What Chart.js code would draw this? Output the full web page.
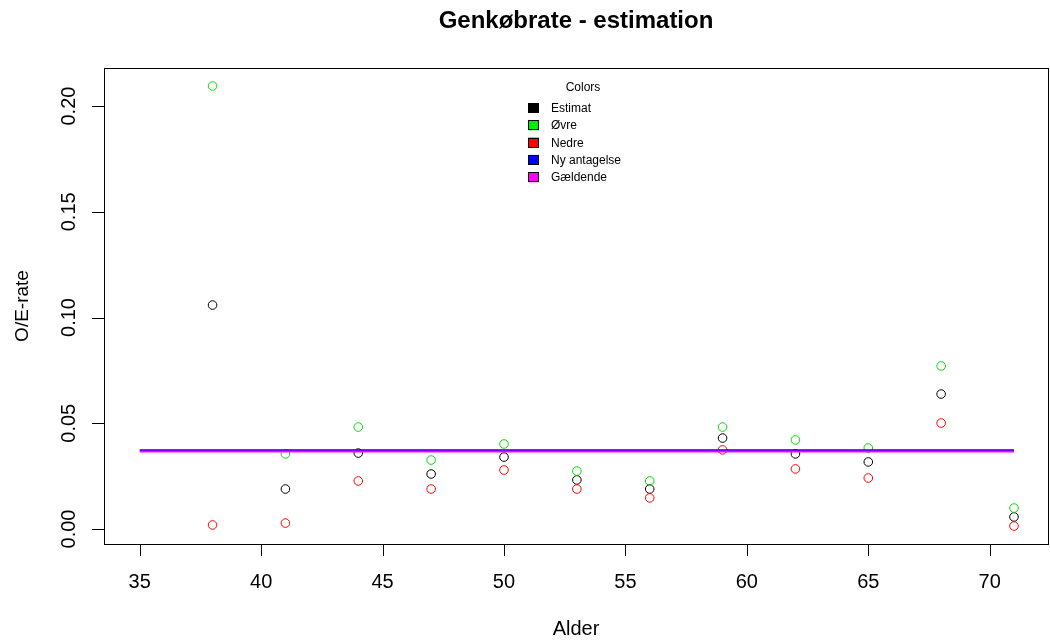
<!DOCTYPE html>
<html>
<head>
<meta charset="utf-8">
<script src="https://cdn.jsdelivr.net/npm/chart.js@4/dist/chart.umd.min.js"></script>
<style>
  html, body { margin: 0; padding: 0; background: #fff; }
  #wrap { width: 1050px; height: 641px; }
</style>
</head>
<body>
<div id="wrap"><canvas id="chart"></canvas></div>
<script>
// ages and rate estimates
const ages = [38, 41, 44, 47, 50, 53, 56, 59, 62, 65, 68, 71];
const estimat = [0.1059, 0.0189, 0.0359, 0.0260, 0.0340, 0.0232, 0.0189, 0.0430, 0.0355, 0.0317, 0.0638, 0.0057];
const ovre    = [0.2095, 0.0355, 0.0482, 0.0326, 0.0402, 0.0274, 0.0227, 0.0482, 0.0421, 0.0383, 0.0771, 0.0099];
const nedre   = [0.0019, 0.0028, 0.0227, 0.0189, 0.0279, 0.0189, 0.0147, 0.0374, 0.0284, 0.0241, 0.0501, 0.0014];
const lineAges = [35, 71];
const nyAntagelse = [0.0372, 0.0372];
const gaeldende = [0.0366, 0.0366];

const xTicks = [35, 40, 45, 50, 55, 60, 65, 70];
const yTicks = [0, 0.05, 0.10, 0.15, 0.20];
const legendLabels = ['Estimat', 'Øvre', 'Nedre', 'Ny antagelse', 'Gældende'];
const legendColors = ['#000000', '#00ee00', '#ff0000', '#0000ff', '#ff00ff'];

const FONT = '"Liberation Sans", Arial, sans-serif';

function pts(xs, ys) { return xs.map((x, i) => ({ x: x, y: ys[i] })); }

function circles(label, data, color) {
  return { label, data, showLine: false, pointStyle: 'circle', pointRadius: 4.3, pointBorderWidth: 1,
    borderColor: color, pointBorderColor: color, backgroundColor: 'rgba(0,0,0,0)', pointBackgroundColor: 'rgba(0,0,0,0)', order: 3 };
}

// R-style frame, ticks, labels and legend drawn on top
const rPlot = {
  id: 'rPlot',
  afterDraw(chart) {
    const ctx = chart.ctx, a = chart.chartArea;
    const xs = chart.scales.x, ys = chart.scales.y;
    ctx.save();
    ctx.strokeStyle = '#000'; ctx.lineWidth = 1; ctx.fillStyle = '#000';
    ctx.strokeRect(Math.round(a.left) + 0.5, Math.round(a.top) + 0.5, Math.round(a.right - a.left), Math.round(a.bottom - a.top));

    // x axis
    ctx.beginPath();
    xTicks.forEach(t => {
      const px = Math.round(xs.getPixelForValue(t)) + 0.5;
      ctx.moveTo(px, a.bottom); ctx.lineTo(px, a.bottom + 12);
    });
    ctx.stroke();
    ctx.textAlign = 'center'; ctx.textBaseline = 'alphabetic';
    ctx.font = '20px ' + FONT;
    xTicks.forEach(t => ctx.fillText(String(t), xs.getPixelForValue(t), 588));
    ctx.fillText('Alder', (a.left + a.right) / 2, 635);

    // y axis
    ctx.beginPath();
    yTicks.forEach(t => {
      const py = Math.round(ys.getPixelForValue(t)) + 0.5;
      ctx.moveTo(a.left, py); ctx.lineTo(a.left - 12, py);
    });
    ctx.stroke();
    yTicks.forEach(t => {
      const py = ys.getPixelForValue(t);
      ctx.save(); ctx.translate(75, py); ctx.rotate(-Math.PI / 2);
      ctx.fillText(t.toFixed(2), 0, 0);
      ctx.restore();
    });
    ctx.save(); ctx.translate(28, (a.top + a.bottom) / 2); ctx.rotate(-Math.PI / 2);
    ctx.font = '19px ' + FONT; ctx.fillText('O/E-rate', 0, 0);
    ctx.restore();

    // title
    ctx.font = 'bold 24px ' + FONT;
    ctx.fillText('Genkøbrate - estimation', (a.left + a.right) / 2, 28);

    // legend
    ctx.font = '12px ' + FONT;
    ctx.fillText('Colors', 583, 91);
    ctx.textAlign = 'left';
    legendLabels.forEach((lab, i) => {
      const y = 108 + i * 17.3;
      ctx.fillStyle = legendColors[i];
      ctx.fillRect(528, y - 5, 11, 10);
      ctx.strokeStyle = '#000';
      ctx.strokeRect(528.5, Math.round(y - 5) + 0.5, 10, 9);
      ctx.fillStyle = '#000';
      ctx.fillText(lab, 551, y + 4);
    });
    ctx.restore();
  }
};

new Chart(document.getElementById('chart'), {
  type: 'scatter',
  data: {
    datasets: [
      { label: 'Gældende', data: pts(lineAges, gaeldende), showLine: true, borderColor: '#ff00ff', borderWidth: 2, pointRadius: 0, order: 0 },
      { label: 'Ny antagelse', data: pts(lineAges, nyAntagelse), showLine: true, borderColor: '#0000ff', borderWidth: 2, pointRadius: 0, order: 1 },
      circles('Nedre', pts(ages, nedre), '#ff0000'),
      circles('Øvre', pts(ages, ovre), '#00dd00'),
      circles('Estimat', pts(ages, estimat), '#000000')
    ]
  },
  options: {
    responsive: true,
    maintainAspectRatio: false,
    animation: false,
    layout: { autoPadding: false, padding: { top: 68, right: 2, left: 0, bottom: 0 } },
    plugins: { legend: { display: false }, tooltip: { enabled: false }, title: { display: false } },
    scales: {
      x: {
        type: 'linear', min: 33.53, max: 72.4,
        grid: { display: false }, border: { display: false }, ticks: { display: false },
        afterFit(s) { s.height = 97; }
      },
      y: {
        type: 'linear', min: -0.0071, max: 0.218,
        grid: { display: false }, border: { display: false }, ticks: { display: false },
        afterFit(s) { s.width = 104; }
      }
    }
  },
  plugins: [rPlot]
});
</script>
</body>
</html>
